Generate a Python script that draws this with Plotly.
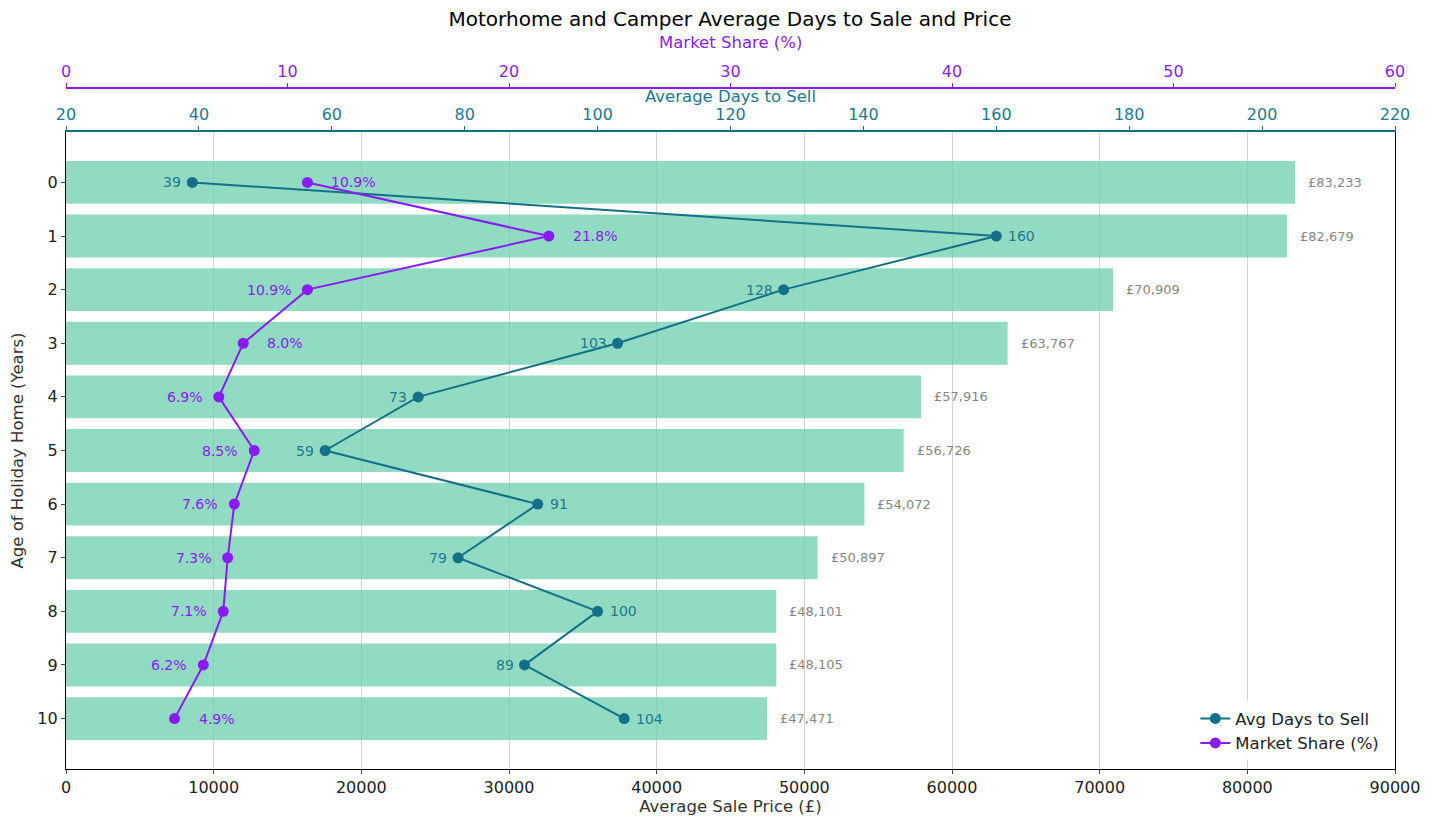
import plotly.graph_objects as go

ages = [0, 1, 2, 3, 4, 5, 6, 7, 8, 9, 10]
prices = [83233, 82679, 70909, 63767, 57916, 56726, 54072, 50897, 48101, 48105, 47471]
days = [39, 160, 128, 103, 73, 59, 91, 79, 100, 89, 104]
share = [10.9, 21.8, 10.9, 8.0, 6.9, 8.5, 7.6, 7.3, 7.1, 6.2, 4.9]
days_label_side = ["left", "right", "left", "left", "left", "left", "right", "left", "right", "left", "right"]
share_label_side = ["right", "right", "left", "right", "left", "left", "left", "left", "left", "left", "right"]

TEAL = "#127089"
TEAL_TXT = "#1d7891"
PURPLE = "#8a1af7"
BAR = "rgba(102,205,170,0.72)"
FONT = "DejaVu Sans"

TOP_M, BOT_M, H = 40, 50, 819
PH = H - TOP_M - BOT_M


def py(px):
    return (H - BOT_M - px) / PH


fig = go.Figure()
fig.add_trace(go.Bar(x=prices, y=ages, orientation="h", width=0.8, marker=dict(color=BAR, line=dict(width=0)),
                     xaxis="x", yaxis="y", showlegend=False, hoverinfo="x+y"))
fig.add_trace(go.Scatter(x=days, y=ages, mode="lines+markers", name="Avg Days to Sell",
                         line=dict(color=TEAL, width=2), marker=dict(color=TEAL, size=11),
                         xaxis="x2", yaxis="y"))
fig.add_trace(go.Scatter(x=share, y=ages, mode="lines+markers", name="Market Share (%)",
                         line=dict(color=PURPLE, width=2), marker=dict(color=PURPLE, size=11),
                         xaxis="x3", yaxis="y"))

ann = []
for a, p in zip(ages, prices):
    ann.append(dict(x=p, y=a, xref="x", yref="y", text=f"£{p:,}", showarrow=False, xanchor="left",
                    xshift=11, font=dict(size=13, color="#858585", family=FONT)))
for a, d, s in zip(ages, days, days_label_side):
    ann.append(dict(x=d, y=a, xref="x2", yref="y", text=str(d), showarrow=False,
                    xanchor="right" if s == "left" else "left", xshift=-9 if s == "left" else 10,
                    font=dict(size=14, color=TEAL_TXT, family=FONT)))
for a, m, s in zip(ages, share, share_label_side):
    ann.append(dict(x=m, y=a, xref="x3", yref="y", text=f"{m:.1f}%", showarrow=False,
                    xanchor="right" if s == "left" else "left", xshift=-14 if s == "left" else 22,
                    font=dict(size=14, color=PURPLE, family=FONT)))

ann.append(dict(x=0.5, y=py(43), xref="paper", yref="paper", text="Market Share (%)", showarrow=False,
                xanchor="center", yanchor="middle", font=dict(size=16.5, color=PURPLE, family=FONT)))
ann.append(dict(x=0.5, y=py(97), xref="paper", yref="paper", text="Average Days to Sell", showarrow=False,
                xanchor="center", yanchor="middle", font=dict(size=16.5, color=TEAL_TXT, family=FONT)))

fig.update_layout(
    width=1437, height=819,
    margin=dict(l=66, r=42, t=TOP_M, b=BOT_M),
    paper_bgcolor="white", plot_bgcolor="white",
    font=dict(family=FONT, size=16, color="#222222"),
    title=dict(text="Motorhome and Camper Average Days to Sale and Price", x=0.508, xanchor="center",
               y=1 - 19 / 819, yanchor="middle", yref="container", font=dict(size=20, color="black")),
    bargap=0.2,
    xaxis=dict(range=[0, 90000], dtick=10000, tickformat="d", showgrid=True, gridcolor="#d3d3d3", gridwidth=1,
               showline=True, linecolor="black", linewidth=1.2, ticks="outside", ticklen=4, automargin=False,
               tickfont=dict(size=16, color="#222222"), anchor="y", side="bottom", zeroline=False,
               title=dict(text="Average Sale Price (£)", font=dict(size=16.5, color="#333333"), standoff=4)),
    xaxis2=dict(range=[20, 220], dtick=20, overlaying="x", side="top", anchor="y", showgrid=False,
                showline=True, linecolor=TEAL, linewidth=1.5, ticks="outside", ticklen=4, tickcolor=TEAL,
                automargin=False, tickfont=dict(size=16, color=TEAL_TXT), zeroline=False),
    xaxis3=dict(range=[0, 60], dtick=10, overlaying="x", side="top", anchor="free", position=py(88),
                showgrid=False, showline=True, linecolor=PURPLE, linewidth=1.5, ticks="outside", ticklen=4,
                automargin=False, tickcolor=PURPLE, tickfont=dict(size=16, color=PURPLE), zeroline=False),
    yaxis=dict(domain=[0, py(132)], range=[10.94, -0.94], tickvals=ages, ticktext=[str(a) for a in ages],
               showgrid=False, showline=True, linecolor="black", linewidth=1.2, mirror=True, ticks="outside",
               ticklen=4, automargin=False, tickfont=dict(size=16, color="#222222"), zeroline=False,
               title=dict(text="Age of Holiday Home (Years)", font=dict(size=16.5, color="#333333"), standoff=9)),
    legend=dict(x=0.992, y=0.012, xanchor="right", yanchor="bottom", bgcolor="rgba(255,255,255,0.85)",
                font=dict(size=16.5, color="#222222"), borderwidth=0),
    annotations=ann,
)

fig.write_html("out.html", config={"displayModeBar": False},
               post_script="document.body.style.margin='0';document.body.style.padding='0';")
